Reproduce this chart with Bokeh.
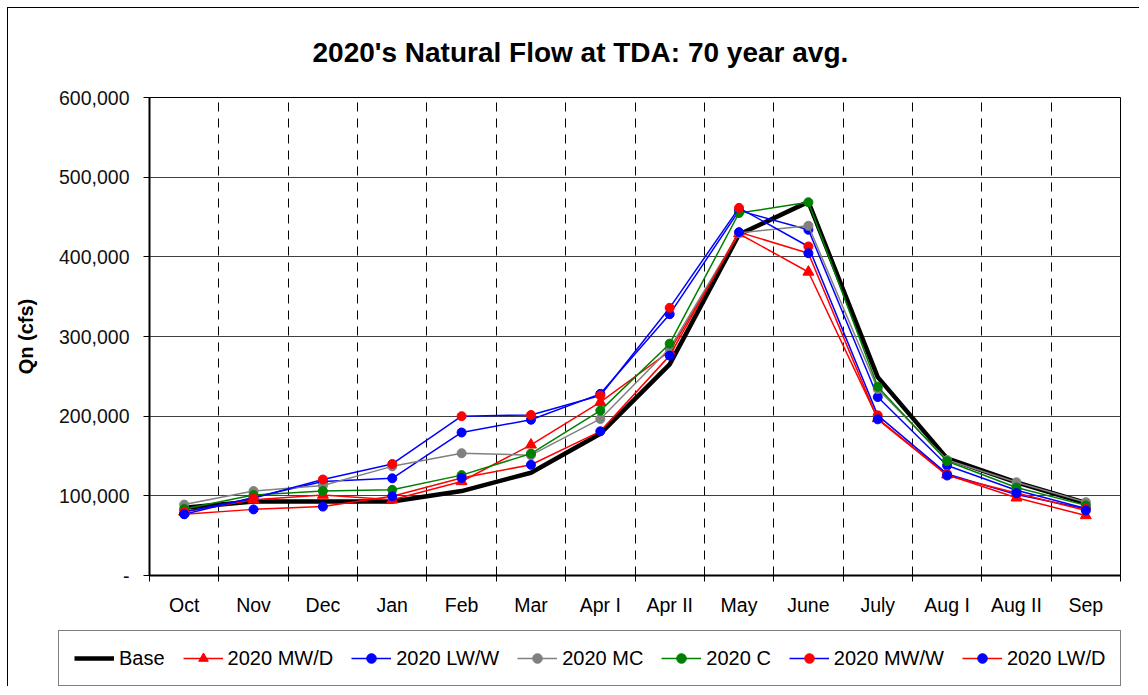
import math
from bokeh.plotting import figure
from bokeh.models import (Range1d, FixedTicker, NumeralTickFormatter, Legend, LegendItem)
from bokeh.embed import file_html
from bokeh.resources import INLINE

months = ["Oct", "Nov", "Dec", "Jan", "Feb", "Mar", "Apr I", "Apr II",
          "May", "June", "July", "Aug I", "Aug II", "Sep"]

base =     [85000, 93000, 93000, 93000, 106000, 129000, 178000, 265000, 428000, 469000, 249000, 147000, 117000, 91000]
mw_d =     [80000, 95000, 101000, 95000, 118000, 164000, 217500, 281500, 429000, 381000, 197000, 126500, 97500, 75300]
lw_w =     [77000, 98000, 118000, 122000, 179500, 195500, 228000, 328000, 458000, 434000, 224000, 138000, 107000, 84000]
mc =       [89000, 106000, 113000, 137000, 153500, 151000, 196500, 285000, 430000, 439000, 234000, 145000, 117000, 92000]
c =        [83500, 101000, 106000, 107500, 126000, 153000, 207000, 291000, 455000, 468500, 237000, 143500, 110500, 88000]
mw_w =     [80000, 97000, 120500, 140000, 200000, 201500, 226000, 336000, 461500, 413000, 201000, 127500, 101500, 83700]
lw_d =     [77000, 83000, 86500, 99500, 122500, 139000, 181000, 276000, 431000, 404500, 196000, 125500, 103500, 81600]

y_ticks = [0, 100000, 200000, 300000, 400000, 500000, 600000]

FONT = "Liberation Sans"

centers = [i + 0.5 for i in range(len(months))]
bounds = list(range(len(months) + 1))

p = figure(width=1132, height=621, output_backend="svg", toolbar_location=None,
           x_range=Range1d(0, len(months)), y_range=Range1d(0, 600000),
           min_border_left=141, min_border_right=20, min_border_top=89, min_border_bottom=54,
           styles={"margin-left": "7px", "margin-top": "7px",
                   "border-left": "1px solid black", "border-top": "1px solid black"})

p.title.text = "2020's Natural Flow  at TDA: 70 year avg."
p.title.text_font = FONT
p.title.text_font_size = "28px"
p.title.text_font_style = "bold"
p.title.text_color = "black"
p.title.align = "left"
p.title.vertical_align = "top"
p.title.offset = 163
p.title.standoff = 56

p.outline_line_color = "black"
p.outline_line_width = 1
p.background_fill_color = "white"
p.border_fill_color = "white"

# x axis
xa = p.xaxis[0]
xa.ticker = FixedTicker(ticks=centers, minor_ticks=bounds)
xa.major_label_overrides = {cx: m for cx, m in zip(centers, months)}
xa.major_tick_line_color = None
xa.major_tick_in = 0
xa.major_tick_out = 0
xa.minor_tick_in = 0
xa.minor_tick_out = 6
xa.minor_tick_line_color = "black"
xa.axis_line_color = "black"
xa.axis_line_width = 2
xa.major_label_text_font = FONT
xa.major_label_text_font_size = "19.5px"
xa.major_label_text_color = "black"
xa.major_label_standoff = 12

# y axis
ya = p.yaxis[0]
ya.ticker = FixedTicker(ticks=y_ticks, minor_ticks=[])
ya.formatter = NumeralTickFormatter(format="0,0")
ya.major_label_overrides = {0: "-"}
ya.major_tick_in = 0
ya.major_tick_out = 6
ya.major_tick_line_color = "black"
ya.minor_tick_line_color = None
ya.axis_line_color = "black"
ya.axis_line_width = 2
ya.major_label_text_font = FONT
ya.major_label_text_font_size = "19.5px"
ya.major_label_text_color = "#111111"
ya.major_label_standoff = 14
ya.axis_label = "Qn (cfs)"
ya.axis_label_text_font = FONT
ya.axis_label_text_font_size = "20px"
ya.axis_label_text_font_style = "bold"
ya.axis_label_text_color = "black"
ya.axis_label_standoff = 19

# grids
p.xgrid.ticker = FixedTicker(ticks=bounds[1:-1])
p.xgrid.grid_line_color = "black"
p.xgrid.grid_line_dash = "9 7"
p.xgrid.grid_line_width = 1
p.ygrid.ticker = FixedTicker(ticks=y_ticks)
p.ygrid.grid_line_color = "#404040"
p.ygrid.grid_line_width = 1

series = [
    ("2020 MW/D", mw_d, "#FF0000", "#FF0000", "triangle", 11),
    ("2020 LW/W", lw_w, "#0000FF", "#0000FF", "circle", 9),
    ("2020 MC", mc, "#808080", "#808080", "circle", 9),
    ("2020 C", c, "#008000", "#008000", "circle", 9),
    ("2020 MW/W", mw_w, "#0000FF", "#FF0000", "circle", 9),
    ("2020 LW/D", lw_d, "#FF0000", "#0000FF", "circle", 9),
]

p.line(centers, base, line_color="black", line_width=4.5)
for label, vals, lc, mcol, marker, sz in series:
    p.line(centers, vals, line_color=lc, line_width=1.5)
    p.scatter(centers, vals, marker=marker, size=sz, fill_color=mcol, line_color=mcol)

# legend strip: a separate root so its frame is not aligned to the chart's frame
lp = figure(width=1132, height=58, output_backend="svg", toolbar_location=None,
            x_range=Range1d(0, 1), y_range=Range1d(0, 1),
            min_border=0, min_border_left=0, min_border_right=0,
            min_border_top=0, min_border_bottom=0,
            styles={"margin-left": "7px", "border-left": "1px solid black"})
lp.axis.visible = False
lp.grid.visible = False
lp.outline_line_color = None
lp.background_fill_color = "white"
lp.border_fill_color = "white"

nan = [math.nan]
items = []
rb = lp.line(nan, nan, line_color="black", line_width=4.5)
items.append(LegendItem(label="Base", renderers=[rb]))
for label, vals, lc, mcol, marker, sz in series:
    rl = lp.line(nan, nan, line_color=lc, line_width=1.5)
    rs = lp.scatter(nan, nan, marker=marker, size=sz, fill_color=mcol, line_color=mcol)
    items.append(LegendItem(label=label, renderers=[rl, rs]))

legend = Legend(items=items, orientation="horizontal", location=(50, 0))
legend.label_text_font = FONT
legend.label_text_font_size = "20px"
legend.label_text_color = "black"
legend.border_line_color = "black"
legend.border_line_width = 1
legend.background_fill_color = "white"
legend.background_fill_alpha = 1
legend.padding = 15
legend.spacing = 18
legend.glyph_width = 40
legend.glyph_height = 24
legend.label_height = 24
legend.label_standoff = 5
legend.margin = 0
lp.add_layout(legend, "center")

open("out.html", "w").write(file_html([p, lp], INLINE))
